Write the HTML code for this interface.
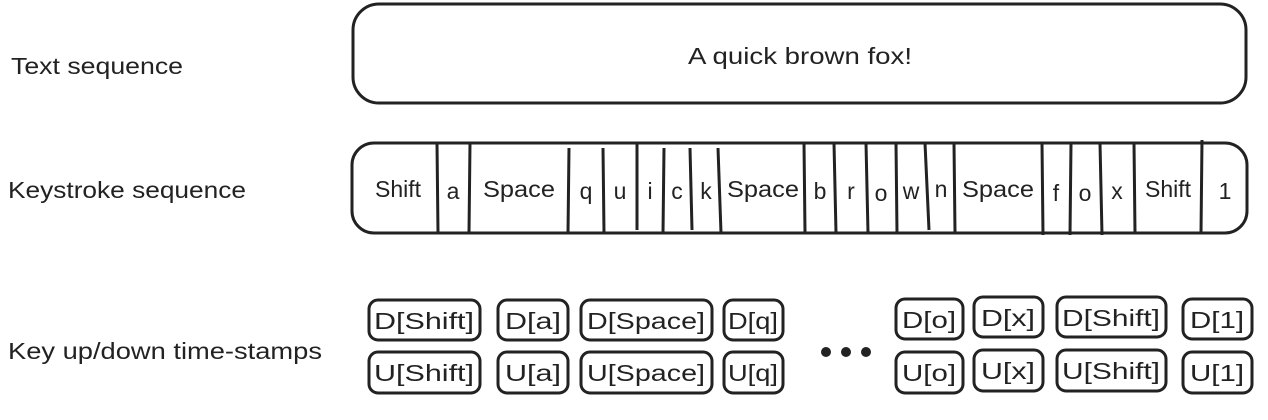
<!DOCTYPE html>
<html><head><style>
body{margin:0;background:#fff;}
svg text{font-family:"Liberation Sans",sans-serif;fill:#222;}
</style></head><body>
<svg width="1268" height="415" viewBox="0 0 1268 415" xmlns="http://www.w3.org/2000/svg">
<g font-size="23">
<text x="11" y="74" textLength="172" lengthAdjust="spacingAndGlyphs">Text sequence</text>
<text x="8" y="198" textLength="238" lengthAdjust="spacingAndGlyphs">Keystroke sequence</text>
<text x="8" y="359" textLength="314" lengthAdjust="spacingAndGlyphs">Key up/down time-stamps</text>
</g>
<rect x="353" y="4" width="893" height="99" rx="26" fill="none" stroke="#222" stroke-width="3"/>
<text x="688" y="64" font-size="23" textLength="224" lengthAdjust="spacingAndGlyphs">A quick brown fox!</text>
<rect x="352" y="143" width="895" height="90" rx="22" fill="none" stroke="#222" stroke-width="3"/>
<g stroke="#222" stroke-width="3">
<line x1="437" y1="143" x2="438" y2="233"/><line x1="470" y1="143" x2="469" y2="233"/>
<line x1="569" y1="148" x2="568" y2="233"/><line x1="603" y1="148" x2="604" y2="233"/>
<line x1="637" y1="143" x2="637" y2="230"/><line x1="664" y1="148" x2="663" y2="233"/>
<line x1="690" y1="148" x2="692" y2="230"/><line x1="718" y1="148" x2="721" y2="233"/>
<line x1="804" y1="143" x2="805" y2="233"/><line x1="834" y1="143" x2="836" y2="233"/>
<line x1="866" y1="143" x2="868" y2="233"/><line x1="896" y1="143" x2="897" y2="233"/>
<line x1="925" y1="143" x2="929" y2="230"/><line x1="954" y1="143" x2="955" y2="233"/>
<line x1="1042" y1="143" x2="1043" y2="235"/><line x1="1071" y1="143" x2="1070" y2="235"/>
<line x1="1100" y1="143" x2="1102" y2="235"/><line x1="1134" y1="143" x2="1135" y2="233"/>
<line x1="1202" y1="140" x2="1201" y2="233"/>
</g>
<g font-size="23" text-anchor="middle">
<text x="398" y="197">Shift</text><text x="453" y="199">a</text><text x="519" y="197" textLength="72" lengthAdjust="spacingAndGlyphs">Space</text>
<text x="586" y="199">q</text><text x="620" y="199">u</text><text x="650" y="199">i</text>
<text x="677" y="199">c</text><text x="706" y="199">k</text><text x="763" y="197" textLength="72" lengthAdjust="spacingAndGlyphs">Space</text>
<text x="820" y="199">b</text><text x="851" y="199">r</text><text x="881" y="201">o</text>
<text x="911" y="199">w</text><text x="941" y="197">n</text><text x="998" y="197" textLength="72" lengthAdjust="spacingAndGlyphs">Space</text>
<text x="1056" y="201">f</text><text x="1085" y="201">o</text><text x="1117" y="199">x</text>
<text x="1168" y="197">Shift</text><text x="1225" y="199">1</text>
</g>
<g fill="none" stroke="#222" stroke-width="3">
<rect x="369" y="300" width="111" height="40" rx="9"/><rect x="369" y="352" width="111" height="41" rx="9"/>
<rect x="498" y="300" width="70" height="40" rx="9"/><rect x="498" y="352" width="70" height="41" rx="9"/>
<rect x="581" y="300" width="131" height="40" rx="9"/><rect x="581" y="352" width="131" height="41" rx="9"/>
<rect x="724" y="300" width="59" height="40" rx="9"/><rect x="724" y="352" width="59" height="41" rx="9"/>
<rect x="896" y="299" width="67" height="40" rx="9"/><rect x="896" y="352" width="67" height="41" rx="9"/>
<rect x="974" y="297" width="69" height="40" rx="9"/><rect x="974" y="350" width="69" height="41" rx="9"/>
<rect x="1057" y="297" width="109" height="40" rx="9"/><rect x="1057" y="350" width="109" height="41" rx="9"/>
<rect x="1183" y="299" width="69" height="40" rx="9"/><rect x="1183" y="352" width="69" height="41" rx="9"/>
</g>
<g fill="#222"><circle cx="826" cy="352" r="5"/><circle cx="846" cy="352" r="5"/><circle cx="866" cy="352" r="5"/></g>
<g font-size="23" text-anchor="middle" lengthAdjust="spacingAndGlyphs">
<text x="424" y="329" textLength="100" lengthAdjust="spacingAndGlyphs">D[Shift]</text><text x="424" y="381" textLength="100" lengthAdjust="spacingAndGlyphs">U[Shift]</text>
<text x="533" y="329" textLength="56" lengthAdjust="spacingAndGlyphs">D[a]</text><text x="533" y="381" textLength="56" lengthAdjust="spacingAndGlyphs">U[a]</text>
<text x="646" y="329" textLength="118" lengthAdjust="spacingAndGlyphs">D[Space]</text><text x="646" y="381" textLength="118" lengthAdjust="spacingAndGlyphs">U[Space]</text>
<text x="753" y="329" textLength="50" lengthAdjust="spacingAndGlyphs">D[q]</text><text x="753" y="381" textLength="50" lengthAdjust="spacingAndGlyphs">U[q]</text>
<text x="929" y="328" textLength="54" lengthAdjust="spacingAndGlyphs">D[o]</text><text x="929" y="381" textLength="54" lengthAdjust="spacingAndGlyphs">U[o]</text>
<text x="1008" y="326" textLength="54" lengthAdjust="spacingAndGlyphs">D[x]</text><text x="1008" y="379" textLength="54" lengthAdjust="spacingAndGlyphs">U[x]</text>
<text x="1111" y="326" textLength="98" lengthAdjust="spacingAndGlyphs">D[Shift]</text><text x="1111" y="379" textLength="98" lengthAdjust="spacingAndGlyphs">U[Shift]</text>
<text x="1217" y="328" textLength="54" lengthAdjust="spacingAndGlyphs">D[1]</text><text x="1217" y="381" textLength="54" lengthAdjust="spacingAndGlyphs">U[1]</text>
</g>
</svg>
</body></html>
